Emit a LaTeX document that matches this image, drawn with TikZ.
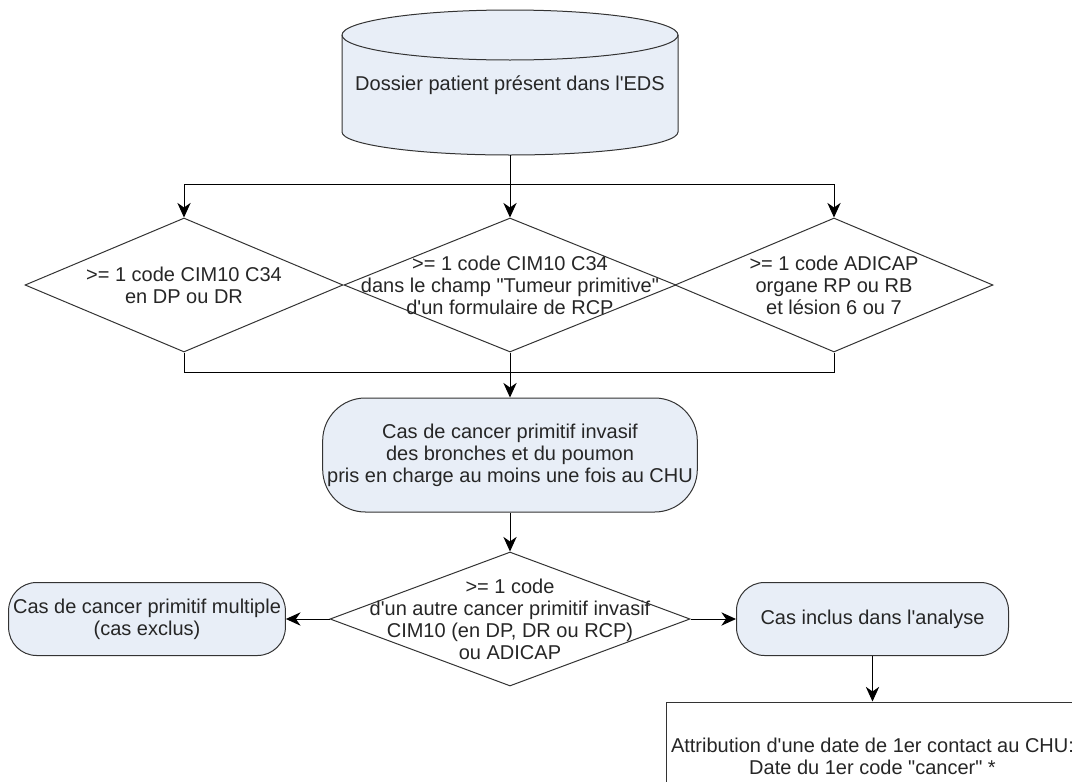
\documentclass[tikz,border=0pt]{standalone}
\usepackage{fontspec}
\setmainfont{Liberation Sans}[Ligatures=TeXOff]
\usetikzlibrary{shapes.geometric,arrows.meta}
\definecolor{boxfill}{RGB}{232,238,247}
\tikzset{
  txt/.style={font=\fontsize{15}{16.5}\selectfont, text=black!85, align=center},
  decision/.style={diamond, draw=black!80, line width=0.75pt, inner sep=0pt,
    minimum width=#1, minimum height=100.5pt},
  roundbox/.style={rectangle, rounded corners=21pt, draw=black!80, fill=boxfill,
    line width=0.75pt, minimum width=204pt, minimum height=54.75pt, txt},
  shell/.style={draw=black!80, line width=0.75pt},
  flow/.style={-{Stealth[length=11pt,width=10pt,inset=3.5pt]}, line width=0.75pt},
}

\begin{document}
\begin{tikzpicture}[x=0.75pt,y=-0.75pt]
   \useasboundingbox (0,0) rectangle (1072,782);
   % base de donnees
   \draw[shell, fill=boxfill] (342,35) .. controls (342,21.2) and (417.2,10) .. (510,10)
      .. controls (602.8,10) and (678,21.2) .. (678,35) -- (678,132)
      .. controls (678,144.7) and (602.8,155) .. (510,155)
      .. controls (417.2,155) and (342,144.7) .. (342,132) -- cycle;
   \draw[shell] (342,35) .. controls (342,48.8) and (417.2,60) .. (510,60)
      .. controls (602.8,60) and (678,48.8) .. (678,35);
   \node[txt, minimum width=252pt, inner sep=0pt] (eds) at (510,85)
      {Dossier patient présent dans l'EDS};
   \coordinate (edsbot) at (510,155);

   % criteres
   \node[decision=238.5pt, label={[txt]center:{>= 1 code CIM10 C34\\en DP ou DR}}] (cim) at (184,285) {};
   \node[decision=249pt, label={[txt]center:{>= 1 code CIM10 C34\\dans le champ "Tumeur primitive"\\d'un formulaire de RCP}}] (rcp) at (510,285) {};
   \node[decision=238.5pt, label={[txt]center:{>= 1 code ADICAP\\organe RP ou RB\\et lésion 6 ou 7}}] (adicap) at (834,285) {};

   \node[roundbox, minimum width=273.75pt, minimum height=85.5pt, rounded corners=32pt] (cas) at (510,455)
      {Cas de cancer primitif invasif\\des bronches et du poumon\\pris en charge au moins une fois au CHU};

   \node[decision=270pt, label={[txt]center:{>= 1 code\\d'un autre cancer primitif invasif\\CIM10 (en DP, DR ou RCP)\\ou ADICAP}}] (autre) at (510,619) {};

   \node[roundbox] (multi) at (147,619) {Cas de cancer primitif multiple\\(cas exclus)};
   \node[roundbox] (inclus) at (872.5,619) {Cas inclus dans l'analyse};

   \node[txt, draw=black!80, line width=0.75pt, minimum width=308pt, minimum height=81pt] (date) at (872.5,756)
      {Attribution d'une date de 1er contact au CHU:\\Date du 1er code "cancer" *};

   % liens
   \coordinate (split) at (510,184);
   \coordinate (merge) at (510,372);
   \draw[flow] (edsbot) -- (rcp.north);
   \draw[flow] (split) -| (cim.north);
   \draw[flow] (split) -| (adicap.north);
   \draw[line width=0.75pt] (cim.south) |- (merge);
   \draw[line width=0.75pt] (adicap.south) |- (merge);
   \draw[flow] (rcp.south) -- (cas.north);
   \draw[flow] (cas.south) -- (autre.north);
   \draw[flow] (autre.west) -- (multi.east);
   \draw[flow] (autre.east) -- (inclus.west);
   \draw[flow] (inclus.south) -- (date.north);
\end{tikzpicture}
\end{document}
